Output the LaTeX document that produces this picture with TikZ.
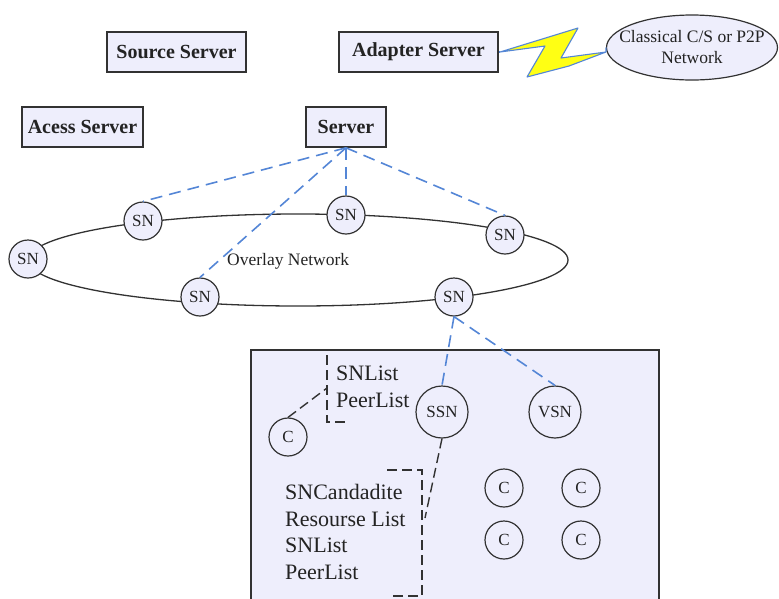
\documentclass[tikz,border=0pt]{standalone}
\usepackage{fontspec}
\setmainfont{Liberation Serif}
\usetikzlibrary{shapes.geometric}
\definecolor{lav}{RGB}{238,238,252}
\definecolor{edge}{RGB}{50,50,50}
\definecolor{txt}{RGB}{35,35,35}
\definecolor{linkblue}{RGB}{84,134,214}
\definecolor{boltyellow}{RGB}{255,255,20}
\begin{document}
\begin{tikzpicture}[x=1pt,y=-1pt,
  srvbox/.style={draw=edge,line width=1.6pt,fill=lav,text=txt,
    font=\fontsize{20}{22}\selectfont\bfseries,minimum height=40pt,inner sep=0pt},
  peer/.style={circle,draw=edge,line width=1.2pt,fill=lav,text=txt,
    minimum size=38pt,inner sep=0pt,font=\fontsize{17}{19}\selectfont},
  bigpeer/.style={peer,minimum size=52pt},
  link/.style={draw=linkblue,line width=1.6pt,dash pattern=on 12pt off 7pt},
  bracket/.style={draw=edge,line width=1.4pt,dash pattern=on 10pt off 5pt},
  listtxt/.style={anchor=base west,inner sep=0pt,text=txt,
    font=\fontsize{22}{26}\selectfont}]
\useasboundingbox (0,0) rectangle (779,598);

% server boxes
\node[srvbox,minimum width=139pt] (src) at (176.5,52) {Source Server};
\node[srvbox,minimum width=121pt] (acs) at (82.5,127) {Acess Server};
\node[srvbox,minimum width=159pt] (adp) at (418.5,52) {Adapter Server};
\node[srvbox,minimum width=80pt] (srv) at (346,127) {Server};

% external network: outline and its two-line label
\node[ellipse,draw=edge,line width=1.2pt,fill=lav,minimum width=171pt,
  minimum height=65pt,inner sep=0pt] (cls) at (692,47.5) {};
\node[align=center,inner sep=0pt,text=txt,font=\fontsize{17.5}{21}\selectfont]
  (clstxt) at (cls.center) {Classical C/S or P2P\\Network};

% lightning bolt between adapter and external network
\coordinate (boltL) at (500,52);
\coordinate (boltR) at (606,52);
\draw[linkblue,line width=1.3pt] (adp.east) -- (boltL);
\draw[linkblue,line width=1.3pt] (boltR) -- (cls.west);
\filldraw[fill=boltyellow,draw=linkblue,line width=1.1pt,line join=round]
  (boltL) -- (578,28) -- (561,58) -- (boltR) -- (569,66) -- (527,77) -- (545,46) -- cycle;

% overlay ring
\node[ellipse,draw=edge,line width=1.3pt,minimum width=540pt,minimum height=92pt,
  inner sep=0pt] (ring) at (298,260) {};
\node[anchor=base west,inner sep=0pt,text=txt,font=\fontsize{17.5}{20}\selectfont]
  (ovl) at (227,265) {Overlay Network};

% cluster behind the lower super node
\node[draw=edge,fill=lav,line width=1.6pt,minimum width=408pt,minimum height=262pt,
  anchor=north west,inner sep=0pt] (cluster) at (250,349) {};

% super nodes
\node[peer] (sn1) at (143,221) {SN};
\node[peer] (sn2) at (346,215) {SN};
\node[peer] (sn3) at (505,235) {SN};
\node[peer] (sn4) at (28,259) {SN};
\node[peer] (sn5) at (200,297) {SN};
\node[peer] (sn6) at (454,297) {SN};

% nodes inside the cluster
\node[bigpeer] (ssn) at (442,412) {SSN};
\node[bigpeer] (vsn) at (555,412) {VSN};
\node[peer] (c0) at (288,437) {C};
\node[peer] (c1) at (504,488) {C};
\node[peer] (c2) at (581,488) {C};
\node[peer] (c3) at (504,540) {C};
\node[peer] (c4) at (581,540) {C};

% server links
\draw[link] (srv.south) -- (sn1.north);
\draw[link] (srv.south) -- (sn2.north);
\draw[link] (srv.south) -- (sn3.north);
\draw[link] (srv.south) -- (sn5.north);
\draw[link] (sn6.south) -- (ssn.north);
\draw[link] (sn6.south) -- (vsn.north);

% state brackets
\coordinate (brA) at (327,388);
\coordinate (brB) at (425,518);
\draw[bracket] (352,350) -- (327,350) -- (327,422) -- (345,422);
\draw[bracket] (387,470) -- (422,470) -- (422,596) -- (392,596);
\draw[bracket] (c0.north) -- (brA);
\draw[bracket] (ssn.south) -- (brB);

% list labels
\node[listtxt] (l1) at (336,380) {SNList};
\node[listtxt] (l2) at (336,407) {PeerList};
\node[listtxt] (l3) at (285,499) {SNCandadite};
\node[listtxt] (l4) at (285,526) {Resourse List};
\node[listtxt] (l5) at (285,552) {SNList};
\node[listtxt] (l6) at (285,579) {PeerList};
\end{tikzpicture}
\end{document}
